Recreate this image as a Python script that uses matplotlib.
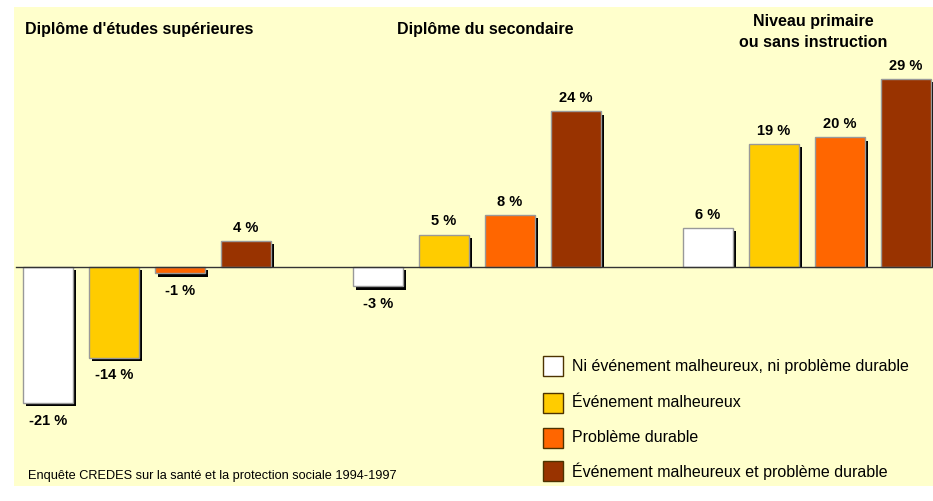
import matplotlib.pyplot as plt

plt.rcParams['font.family'] = ['Liberation Sans', 'DejaVu Sans']

# données
groups = ["Diplôme d'études supérieures", "Diplôme du secondaire", "Niveau primaire\nou sans instruction"]
categories = ["Ni événement malheureux, ni problème durable",
              "Événement malheureux",
              "Problème durable",
              "Événement malheureux et problème durable"]
colors = ['#FFFFFF', '#FFCC00', '#FF6600', '#993300']
superieur = [-21, -14, -1, 4]
secondaire = [-3, 5, 8, 24]
primaire = [6, 19, 20, 29]
source = "Enquête CREDES sur la santé et la protection sociale 1994-1997"

W, H = 933, 502
fig = plt.figure(figsize=(W / 100, H / 100), dpi=100)


def fx(px):
    return px / W


def fy(py):
    return 1 - py / H


ax = fig.add_axes([fx(14), fy(487), fx(933) - fx(14), fy(8) - fy(487)])
ax.set_facecolor('#FFFFCC')
ax.set_xlim(-0.515, 13.41)
ax.set_ylim(-33.8, 40.1)
for s in ax.spines.values():
    s.set_visible(False)
ax.set_xticks([])
ax.set_yticks([])

width = 50 / 66
dx, dy = 0.05, 0.5
for g, vals in enumerate([superieur, secondaire, primaire]):
    for j, v in enumerate(vals):
        x = 5 * g + j
        # ombre
        if v > 0:
            ax.bar(x + dx, v - dy, bottom=0, width=width, color='black', zorder=1)
        else:
            ax.bar(x + dx, v, bottom=-dy, width=width, color='black', zorder=1)
        ax.bar(x, v, width=width, color=colors[j], edgecolor='#999999', linewidth=1, zorder=2)
        if v > 0:
            ax.text(x, v + 1.55, f"{v} %", ha='center', va='baseline', fontsize=10.5, fontweight='bold')
        else:
            ax.text(x, v - 1.5, f"{v} %", ha='center', va='top', fontsize=10.5, fontweight='bold')

ax.axhline(0, xmin=0.002, color='#333333', linewidth=1, zorder=3)

# titres des groupes
fig.text(fx(25), fy(30), groups[0], ha='left', va='center', fontsize=11.5, fontweight='bold')
fig.text(fx(485), fy(30), groups[1], ha='center', va='center', fontsize=11.5, fontweight='bold')
fig.text(fx(813), fy(32), groups[2], ha='center', va='center', fontsize=11.5, fontweight='bold',
         linespacing=1.45)

# légende
rows = [367, 404, 439, 472]
for c, lab, r in zip(colors, categories, rows):
    fig.patches.append(plt.Rectangle((fx(543), fy(r + 10)), 20 / W, 20 / H, transform=fig.transFigure,
                                     facecolor=c, edgecolor='#4d3300', linewidth=1, figure=fig))
    fig.text(fx(572), fy(r - 1), lab, ha='left', va='center', fontsize=11.5)

fig.text(fx(28), fy(476), source, ha='left', va='center', fontsize=9.2)

fig.savefig('out.png', dpi=100)
